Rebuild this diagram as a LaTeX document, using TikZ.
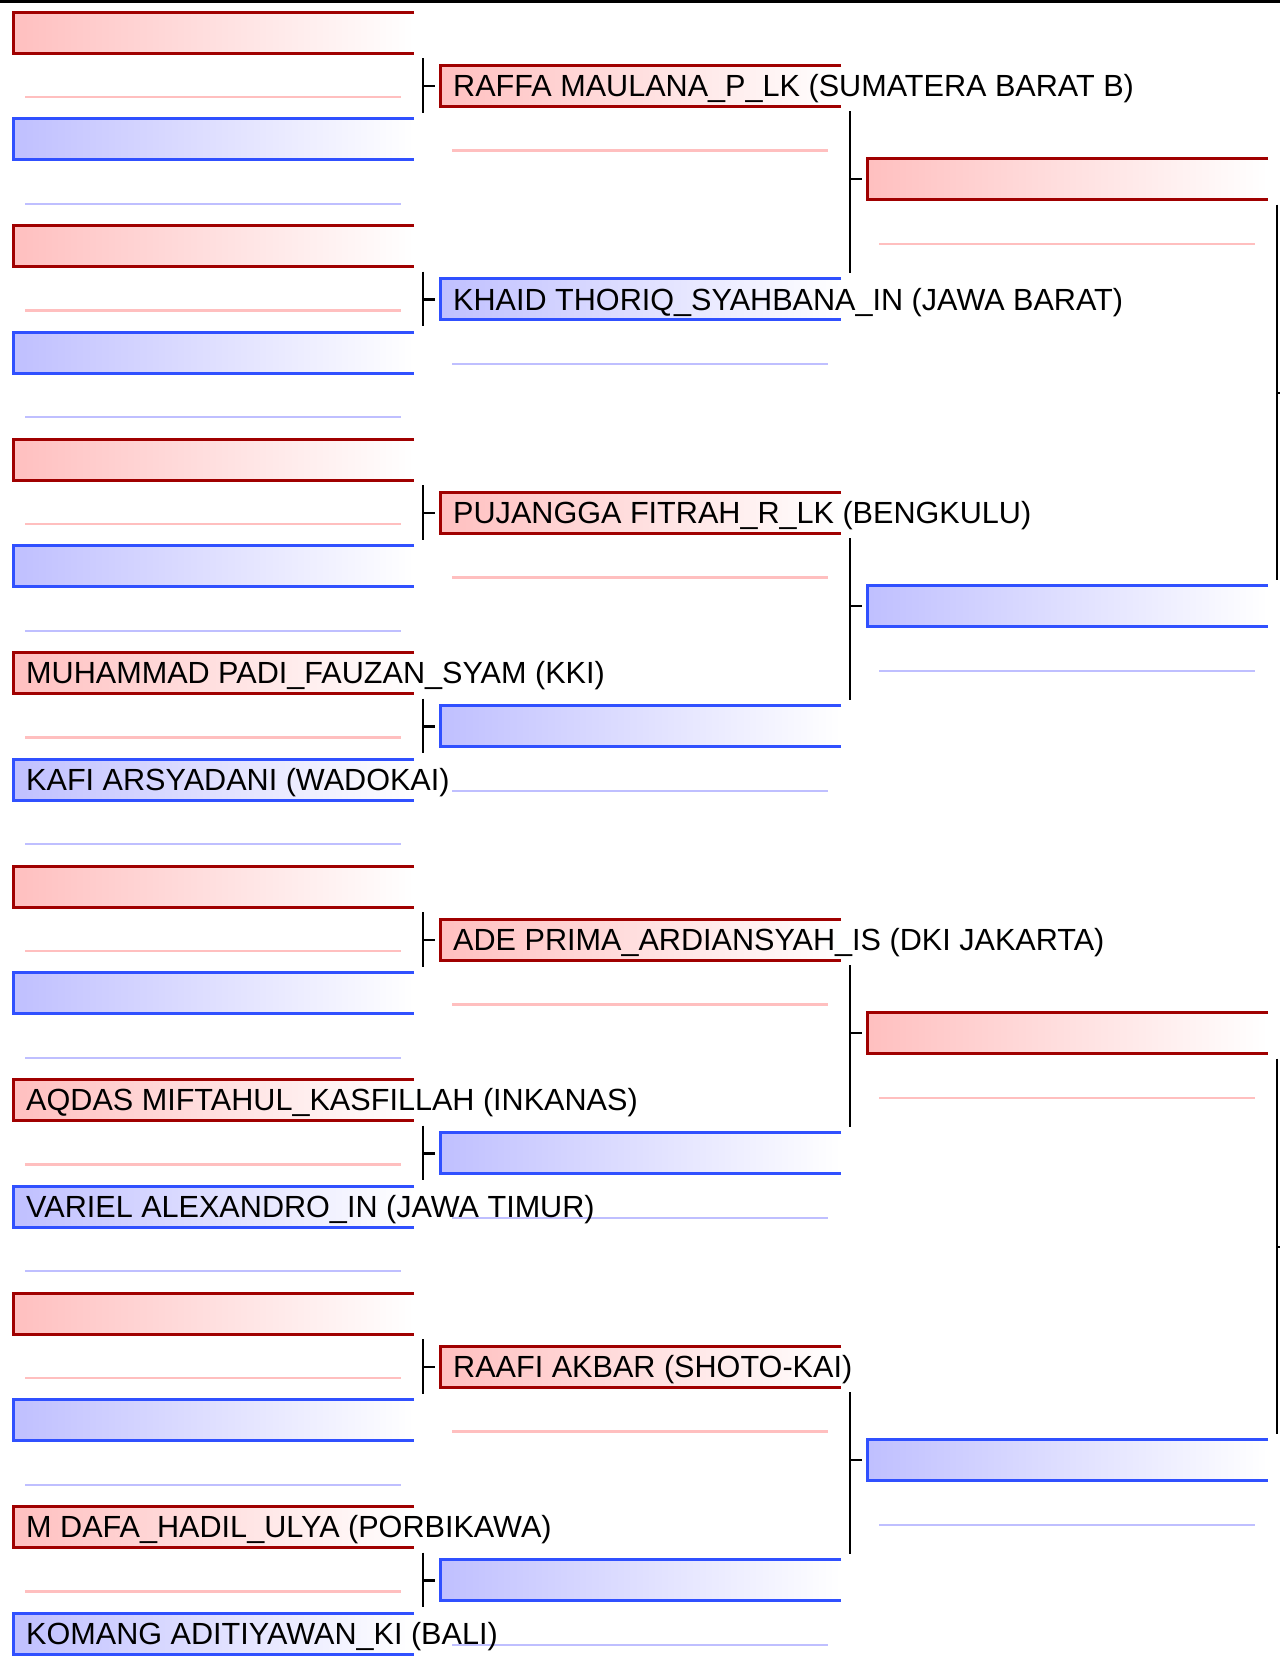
\documentclass[tikz,border=0pt]{standalone}
\usepackage{fontspec}
\setmainfont{Liberation Sans}
\usetikzlibrary{positioning, calc}
\definecolor{rimred}{RGB}{160,0,0}
\definecolor{rimblue}{RGB}{48,80,255}

\begin{document}
\begin{tikzpicture}[
    x=1pt, y=-1pt,
    slot/.style={rectangle, minimum width=402pt, minimum height=43pt, inner sep=0pt,
                 outer sep=0pt, anchor=north west,
                 path picture={\draw[line width=5pt, #1]
                   (path picture bounding box.north east) -- (path picture bounding box.north west)
                   -- (path picture bounding box.south west) -- (path picture bounding box.south east);}},
    redbox/.style={slot=rimred, left color=red!25, right color=white},
    bluebox/.style={slot=rimblue, left color=blue!25, right color=white},
    redline/.style={line width=2.3pt, red!25},
    blueline/.style={line width=2.3pt, blue!25},
    bracket/.style={line width=2.4pt, black},
    player/.style={anchor=base west, inner sep=0pt, font=\fontsize{30.6}{36}\selectfont},
]
\useasboundingbox (0,0) rectangle (1280,1658);
\clip (0,0) rectangle (1280,1658);

% Top rule
\draw[line width=2.5pt] (0,1.25) -- (1280,1.25);

% Round 1
\node[redbox] (p1) at (12,11) {};
\node[bluebox, below=63.75pt of p1] (p2) {};
\node[redbox, below=63.75pt of p2] (p3) {};
\node[bluebox, below=63.75pt of p3] (p4) {};
\node[redbox, below=63.75pt of p4] (p5) {};
\node[bluebox, below=63.75pt of p5] (p6) {};
\node[redbox, below=63.75pt of p6] (p7) {};
\node[bluebox, below=63.75pt of p7] (p8) {};
\node[redbox, below=63.75pt of p8] (p9) {};
\node[bluebox, below=63.75pt of p9] (p10) {};
\node[redbox, below=63.75pt of p10] (p11) {};
\node[bluebox, below=63.75pt of p11] (p12) {};
\node[redbox, below=63.75pt of p12] (p13) {};
\node[bluebox, below=63.75pt of p13] (p14) {};
\node[redbox, below=63.75pt of p14] (p15) {};
\node[bluebox, below=63.75pt of p15] (p16) {};

% Round 2
\node[redbox] (q1) at (439,64.4) {};
\node[bluebox, below=170.5pt of q1] (q2) {};
\node[redbox, below=170.5pt of q2] (q3) {};
\node[bluebox, below=170.5pt of q3] (q4) {};
\node[redbox, below=170.5pt of q4] (q5) {};
\node[bluebox, below=170.5pt of q5] (q6) {};
\node[redbox, below=170.5pt of q6] (q7) {};
\node[bluebox, below=170.5pt of q7] (q8) {};

% Round 3
\node[redbox] (s1) at (866,157.7) {};
\node[bluebox, below=384pt of s1] (s2) {};
\node[redbox, below=384pt of s2] (s3) {};
\node[bluebox, below=384pt of s3] (s4) {};

% Score lines
\draw[redline] ([shift={(13,43)}]p1.south west) -- ([shift={(-13,43)}]p1.south east);
\draw[blueline] ([shift={(13,43)}]p2.south west) -- ([shift={(-13,43)}]p2.south east);
\draw[redline] ([shift={(13,43)}]p3.south west) -- ([shift={(-13,43)}]p3.south east);
\draw[blueline] ([shift={(13,43)}]p4.south west) -- ([shift={(-13,43)}]p4.south east);
\draw[redline] ([shift={(13,43)}]p5.south west) -- ([shift={(-13,43)}]p5.south east);
\draw[blueline] ([shift={(13,43)}]p6.south west) -- ([shift={(-13,43)}]p6.south east);
\draw[redline] ([shift={(13,43)}]p7.south west) -- ([shift={(-13,43)}]p7.south east);
\draw[blueline] ([shift={(13,43)}]p8.south west) -- ([shift={(-13,43)}]p8.south east);
\draw[redline] ([shift={(13,43)}]p9.south west) -- ([shift={(-13,43)}]p9.south east);
\draw[blueline] ([shift={(13,43)}]p10.south west) -- ([shift={(-13,43)}]p10.south east);
\draw[redline] ([shift={(13,43)}]p11.south west) -- ([shift={(-13,43)}]p11.south east);
\draw[blueline] ([shift={(13,43)}]p12.south west) -- ([shift={(-13,43)}]p12.south east);
\draw[redline] ([shift={(13,43)}]p13.south west) -- ([shift={(-13,43)}]p13.south east);
\draw[blueline] ([shift={(13,43)}]p14.south west) -- ([shift={(-13,43)}]p14.south east);
\draw[redline] ([shift={(13,43)}]p15.south west) -- ([shift={(-13,43)}]p15.south east);
\draw[blueline] ([shift={(13,43)}]p16.south west) -- ([shift={(-13,43)}]p16.south east);
\draw[redline] ([shift={(13,43)}]q1.south west) -- ([shift={(-13,43)}]q1.south east);
\draw[blueline] ([shift={(13,43)}]q2.south west) -- ([shift={(-13,43)}]q2.south east);
\draw[redline] ([shift={(13,43)}]q3.south west) -- ([shift={(-13,43)}]q3.south east);
\draw[blueline] ([shift={(13,43)}]q4.south west) -- ([shift={(-13,43)}]q4.south east);
\draw[redline] ([shift={(13,43)}]q5.south west) -- ([shift={(-13,43)}]q5.south east);
\draw[blueline] ([shift={(13,43)}]q6.south west) -- ([shift={(-13,43)}]q6.south east);
\draw[redline] ([shift={(13,43)}]q7.south west) -- ([shift={(-13,43)}]q7.south east);
\draw[blueline] ([shift={(13,43)}]q8.south west) -- ([shift={(-13,43)}]q8.south east);
\draw[redline] ([shift={(13,43)}]s1.south west) -- ([shift={(-13,43)}]s1.south east);
\draw[blueline] ([shift={(13,43)}]s2.south west) -- ([shift={(-13,43)}]s2.south east);
\draw[redline] ([shift={(13,43)}]s3.south west) -- ([shift={(-13,43)}]s3.south east);
\draw[blueline] ([shift={(13,43)}]s4.south west) -- ([shift={(-13,43)}]s4.south east);

% Brackets round 1 -> round 2
\draw[bracket] ([shift={(9,4)}]p1.south east) -- ([shift={(9,-5)}]p2.north east) ([xshift=-16pt]q1.west) -- ([xshift=-4pt]q1.west);
\draw[bracket] ([shift={(9,4)}]p3.south east) -- ([shift={(9,-5)}]p4.north east) ([xshift=-16pt]q2.west) -- ([xshift=-4pt]q2.west);
\draw[bracket] ([shift={(9,4)}]p5.south east) -- ([shift={(9,-5)}]p6.north east) ([xshift=-16pt]q3.west) -- ([xshift=-4pt]q3.west);
\draw[bracket] ([shift={(9,4)}]p7.south east) -- ([shift={(9,-5)}]p8.north east) ([xshift=-16pt]q4.west) -- ([xshift=-4pt]q4.west);
\draw[bracket] ([shift={(9,4)}]p9.south east) -- ([shift={(9,-5)}]p10.north east) ([xshift=-16pt]q5.west) -- ([xshift=-4pt]q5.west);
\draw[bracket] ([shift={(9,4)}]p11.south east) -- ([shift={(9,-5)}]p12.north east) ([xshift=-16pt]q6.west) -- ([xshift=-4pt]q6.west);
\draw[bracket] ([shift={(9,4)}]p13.south east) -- ([shift={(9,-5)}]p14.north east) ([xshift=-16pt]q7.west) -- ([xshift=-4pt]q7.west);
\draw[bracket] ([shift={(9,4)}]p15.south east) -- ([shift={(9,-5)}]p16.north east) ([xshift=-16pt]q8.west) -- ([xshift=-4pt]q8.west);

% Brackets round 2 -> round 3
\draw[bracket] ([shift={(9,4)}]q1.south east) -- ([shift={(9,-5)}]q2.north east) ([xshift=-16pt]s1.west) -- ([xshift=-4pt]s1.west);
\draw[bracket] ([shift={(9,4)}]q3.south east) -- ([shift={(9,-5)}]q4.north east) ([xshift=-16pt]s2.west) -- ([xshift=-4pt]s2.west);
\draw[bracket] ([shift={(9,4)}]q5.south east) -- ([shift={(9,-5)}]q6.north east) ([xshift=-16pt]s3.west) -- ([xshift=-4pt]s3.west);
\draw[bracket] ([shift={(9,4)}]q7.south east) -- ([shift={(9,-5)}]q8.north east) ([xshift=-16pt]s4.west) -- ([xshift=-4pt]s4.west);

% Brackets round 3 -> final
\draw[bracket] ([shift={(9,4)}]s1.south east) -- ([shift={(9,-5)}]s2.north east) ([xshift=9pt]$(s1.east)!0.5!(s2.east)$) -- ++(10,0);
\draw[bracket] ([shift={(9,4)}]s3.south east) -- ([shift={(9,-5)}]s4.north east) ([xshift=9pt]$(s3.east)!0.5!(s4.east)$) -- ++(10,0);

% Names
\node[player] (n7) at ([shift={(14,10.9)}]p7.west) {MUHAMMAD PADI\_FAUZAN\_SYAM (KKI)};
\node[player] (n8) at ([shift={(14,10.9)}]p8.west) {KAFI ARSYADANI (WADOKAI)};
\node[player] (n11) at ([shift={(14,10.9)}]p11.west) {AQDAS MIFTAHUL\_KASFILLAH (INKANAS)};
\node[player] (n12) at ([shift={(14,10.9)}]p12.west) {VARIEL ALEXANDRO\_IN (JAWA TIMUR)};
\node[player] (n15) at ([shift={(14,10.9)}]p15.west) {M DAFA\_HADIL\_ULYA (PORBIKAWA)};
\node[player] (n16) at ([shift={(14,10.9)}]p16.west) {KOMANG ADITIYAWAN\_KI (BALI)};
\node[player] (m1) at ([shift={(14,10.9)}]q1.west) {RAFFA MAULANA\_P\_LK (SUMATERA BARAT B)};
\node[player] (m2) at ([shift={(14,10.9)}]q2.west) {KHAID THORIQ\_SYAHBANA\_IN (JAWA BARAT)};
\node[player] (m3) at ([shift={(14,10.9)}]q3.west) {PUJANGGA FITRAH\_R\_LK (BENGKULU)};
\node[player] (m5) at ([shift={(14,10.9)}]q5.west) {ADE PRIMA\_ARDIANSYAH\_IS (DKI JAKARTA)};
\node[player] (m7) at ([shift={(14,10.9)}]q7.west) {RAAFI AKBAR (SHOTO-KAI)};

\end{tikzpicture}
\end{document}
